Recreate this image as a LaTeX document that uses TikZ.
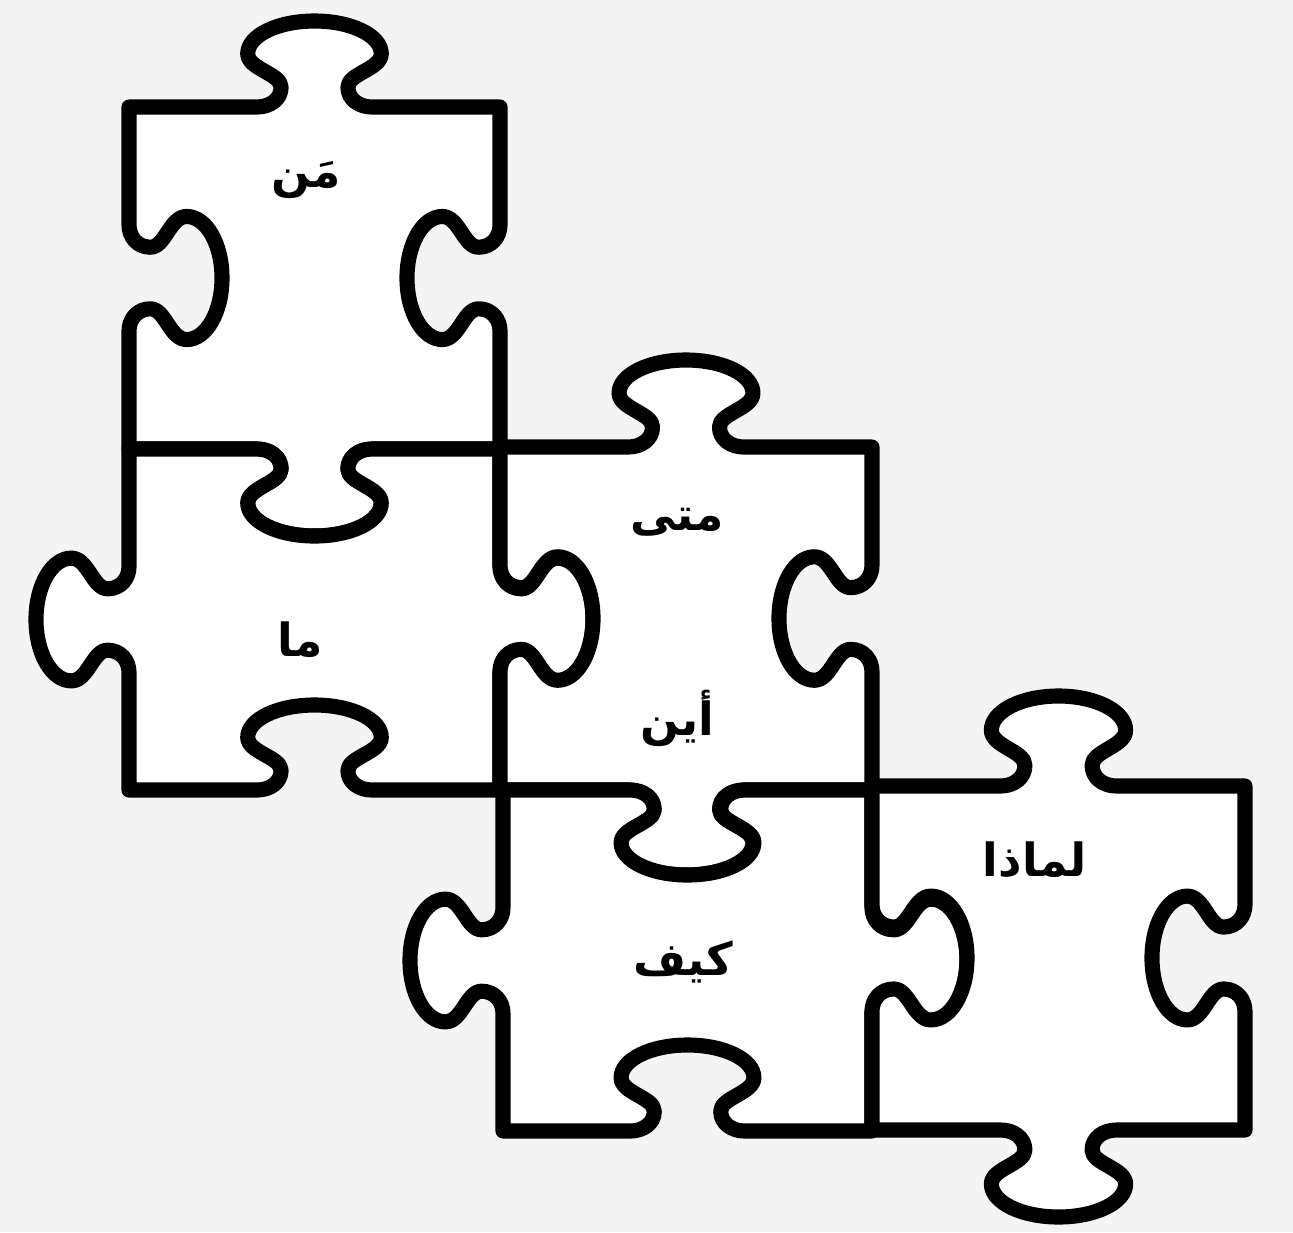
\documentclass[tikz,border=0pt]{standalone}
\usepackage{fontspec}
\newfontfamily\arabicfont[Script=Arabic]{DejaVu Sans}
\TeXXeTstate=1
\definecolor{fundo}{HTML}{F4F4F4}

% lado horizontal com encaixe: y, x inicial, x final, profundidade
\newcommand\ladoh[4]{%
  -- ({(#2+#3)/2-0.155*(#3-#2)},#1)
  .. controls ({(#2+#3)/2-0.12*(#3-#2)},#1) and ({(#2+#3)/2-0.09*(#3-#2)},{#1+0.09*(#4)})
  .. ({(#2+#3)/2-0.09*(#3-#2)},{#1+0.23*(#4)})
  .. controls ({(#2+#3)/2-0.09*(#3-#2)},{#1+0.39*(#4)}) and ({(#2+#3)/2-0.18*(#3-#2)},{#1+0.44*(#4)})
  .. ({(#2+#3)/2-0.18*(#3-#2)},{#1+0.62*(#4)})
  .. controls ({(#2+#3)/2-0.18*(#3-#2)},{#1+0.83*(#4)}) and ({(#2+#3)/2-0.10*(#3-#2)},{#1+(#4)})
  .. ({(#2+#3)/2},{#1+(#4)})
  .. controls ({(#2+#3)/2+0.10*(#3-#2)},{#1+(#4)}) and ({(#2+#3)/2+0.18*(#3-#2)},{#1+0.83*(#4)})
  .. ({(#2+#3)/2+0.18*(#3-#2)},{#1+0.62*(#4)})
  .. controls ({(#2+#3)/2+0.18*(#3-#2)},{#1+0.44*(#4)}) and ({(#2+#3)/2+0.09*(#3-#2)},{#1+0.39*(#4)})
  .. ({(#2+#3)/2+0.09*(#3-#2)},{#1+0.23*(#4)})
  .. controls ({(#2+#3)/2+0.09*(#3-#2)},{#1+0.09*(#4)}) and ({(#2+#3)/2+0.12*(#3-#2)},#1)
  .. ({(#2+#3)/2+0.155*(#3-#2)},#1)
  -- (#3,#1)}

% lado vertical com encaixe: x, y inicial, y final, profundidade
\newcommand\ladov[4]{%
  -- (#1,{(#2+#3)/2-0.155*(#3-#2)})
  .. controls (#1,{(#2+#3)/2-0.12*(#3-#2)}) and ({#1+0.09*(#4)},{(#2+#3)/2-0.09*(#3-#2)})
  .. ({#1+0.23*(#4)},{(#2+#3)/2-0.09*(#3-#2)})
  .. controls ({#1+0.39*(#4)},{(#2+#3)/2-0.09*(#3-#2)}) and ({#1+0.44*(#4)},{(#2+#3)/2-0.18*(#3-#2)})
  .. ({#1+0.62*(#4)},{(#2+#3)/2-0.18*(#3-#2)})
  .. controls ({#1+0.83*(#4)},{(#2+#3)/2-0.18*(#3-#2)}) and ({#1+(#4)},{(#2+#3)/2-0.10*(#3-#2)})
  .. ({#1+(#4)},{(#2+#3)/2})
  .. controls ({#1+(#4)},{(#2+#3)/2+0.10*(#3-#2)}) and ({#1+0.83*(#4)},{(#2+#3)/2+0.18*(#3-#2)})
  .. ({#1+0.62*(#4)},{(#2+#3)/2+0.18*(#3-#2)})
  .. controls ({#1+0.44*(#4)},{(#2+#3)/2+0.18*(#3-#2)}) and ({#1+0.39*(#4)},{(#2+#3)/2+0.09*(#3-#2)})
  .. ({#1+0.23*(#4)},{(#2+#3)/2+0.09*(#3-#2)})
  .. controls ({#1+0.09*(#4)},{(#2+#3)/2+0.09*(#3-#2)}) and (#1,{(#2+#3)/2+0.12*(#3-#2)})
  .. (#1,{(#2+#3)/2+0.155*(#3-#2)})
  -- (#1,#3)}

\begin{document}
\begin{tikzpicture}[x=0.01cm,y=-0.01cm,line join=round,
  peca/.style={fill=white,draw=black,line width=4.3pt},
  palavra/.style={font=\arabicfont\bfseries\fontsize{13pt}{15pt}\selectfont}]

    % fundo
    \fill[fundo] (0,0) rectangle (1293,1232);

    % peça 1
    \filldraw[peca] (129,107) \ladoh{107}{129}{500}{-86} \ladov{500}{107}{449}{-93}
      \ladoh{449}{500}{129}{87} \ladov{129}{449}{107}{93} -- cycle;

    % peça 2
    \filldraw[peca] (129,449) \ladoh{449}{129}{500}{87} \ladov{500}{449}{790}{93}
      \ladoh{790}{500}{129}{-85} \ladov{129}{790}{449}{-93} -- cycle;

    % peça 3
    \filldraw[peca] (500,447) \ladoh{447}{500}{872}{-87} \ladov{872}{447}{790}{-93}
      \ladoh{790}{872}{500}{85} \ladov{500}{790}{447}{93} -- cycle;

    % peça 4
    \filldraw[peca] (503,790) \ladoh{790}{503}{872}{85} \ladov{872}{790}{1131}{95}
      \ladoh{1131}{872}{503}{-86} \ladov{503}{1131}{790}{-93} -- cycle;

    % peça 5
    \filldraw[peca] (872,786) \ladoh{786}{872}{1245}{-90} \ladov{1245}{786}{1130}{-93}
      \ladoh{1130}{1245}{872}{87} \ladov{872}{1130}{786}{95} -- cycle;

    % palavras
    \node[palavra] (quem)   at (306,180)  {\beginR مَن\endR};
    \node[palavra] (oque)   at (300,640)  {\beginR ما\endR};
    \node[palavra] (quando) at (677,522)  {\beginR متى\endR};
    \node[palavra] (onde)   at (677,718)  {\beginR أين\endR};
    \node[palavra] (como)   at (683,962)  {\beginR كيف\endR};
    \node[palavra] (porque) at (1035,860) {\beginR لماذا\endR};

\end{tikzpicture}
\end{document}
